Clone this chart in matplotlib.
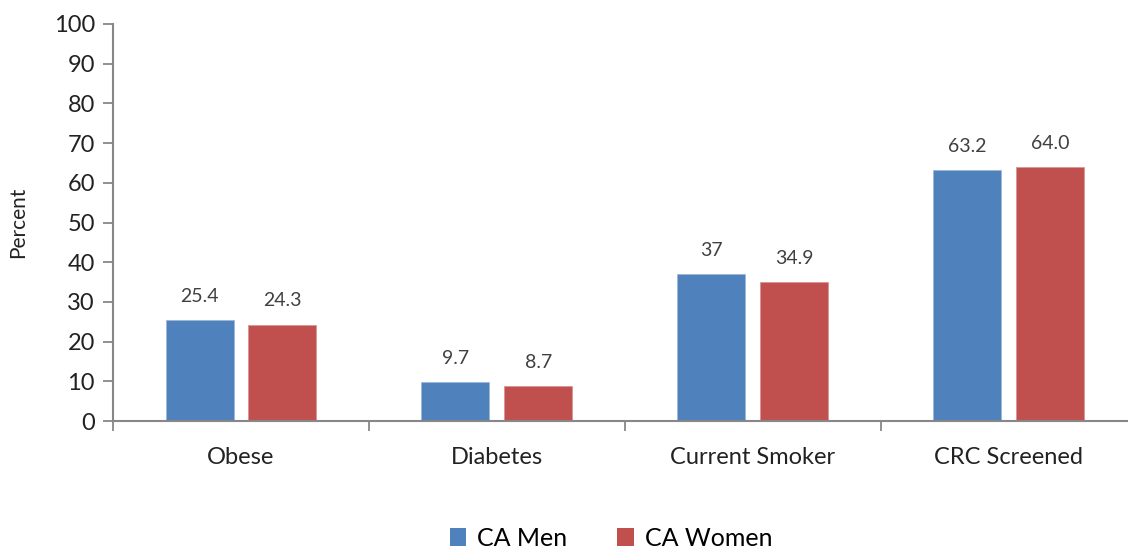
import matplotlib
matplotlib.use("Agg")
import matplotlib.pyplot as plt
import numpy as np
from matplotlib.patches import Patch

plt.rcParams['font.family'] = ['Lato', 'DejaVu Sans']

categories = ['Obese', 'Diabetes', 'Current Smoker', 'CRC Screened']
men = [25.4, 9.7, 37, 63.2]
women = [24.3, 8.7, 34.9, 64.0]
men_labels = ['25.4', '9.7', '37', '63.2']
women_labels = ['24.3', '8.7', '34.9', '64.0']

BLUE = '#4F81BD'
RED = '#C0504D'
GRAY = '#878787'

fig = plt.figure(figsize=(11.28, 5.5), dpi=100)
# axis runs past the right edge of the picture, as in the source
ax = fig.add_axes([113 / 1128, 129 / 550, 1024 / 1128, 397 / 550])

x = np.arange(len(categories))
w = 68 / 256
off = 41.5 / 256
b1 = ax.bar(x - off, men, w, color=BLUE, edgecolor='#9DB7DA', linewidth=0.6)
b2 = ax.bar(x + off, women, w, color=RED, edgecolor='#DA9492', linewidth=0.6)

for rect, lab in zip(b1, men_labels):
    ax.annotate(lab, (rect.get_x() + rect.get_width() / 2, rect.get_height()),
                xytext=(0, 17), textcoords='offset points', ha='center', va='center',
                fontsize=14, color='#404040')
for rect, lab in zip(b2, women_labels):
    ax.annotate(lab, (rect.get_x() + rect.get_width() / 2, rect.get_height()),
                xytext=(0, 17), textcoords='offset points', ha='center', va='center',
                fontsize=14, color='#404040')

ax.set_xlim(-0.5, len(categories) - 0.5)
ax.set_ylim(0, 100)
ax.set_yticks(np.arange(0, 101, 10))
ax.tick_params(axis='y', labelsize=17, length=7, width=1.3, color=GRAY, pad=6, labelcolor='#222222')

ax.set_xticks(x)
ax.set_xticklabels(categories, fontsize=17, color='#222222')
ax.tick_params(axis='x', which='major', length=0, pad=19)
ax.set_xticks(np.arange(-0.5, len(categories), 1), minor=True)
ax.tick_params(axis='x', which='minor', length=7, width=1.3, color=GRAY)

for s in ['top', 'right']:
    ax.spines[s].set_visible(False)
for s in ['left', 'bottom']:
    ax.spines[s].set_color(GRAY)
    ax.spines[s].set_linewidth(1.5)

fig.text(18 / 1128, (550 - 222) / 550, 'Percent', rotation=90, ha='center', va='center',
         fontsize=15, color='#222222')

handles = [Patch(facecolor=BLUE, label='CA Men'), Patch(facecolor=RED, label='CA Women')]
fig.legend(handles=handles, loc='center', bbox_to_anchor=(611 / 1128, 12 / 550), ncol=2,
           frameon=False, fontsize=18, handlelength=0.65, handleheight=0.75,
           handletextpad=0.45, columnspacing=2.0)

fig.savefig('out.png', dpi=100)
